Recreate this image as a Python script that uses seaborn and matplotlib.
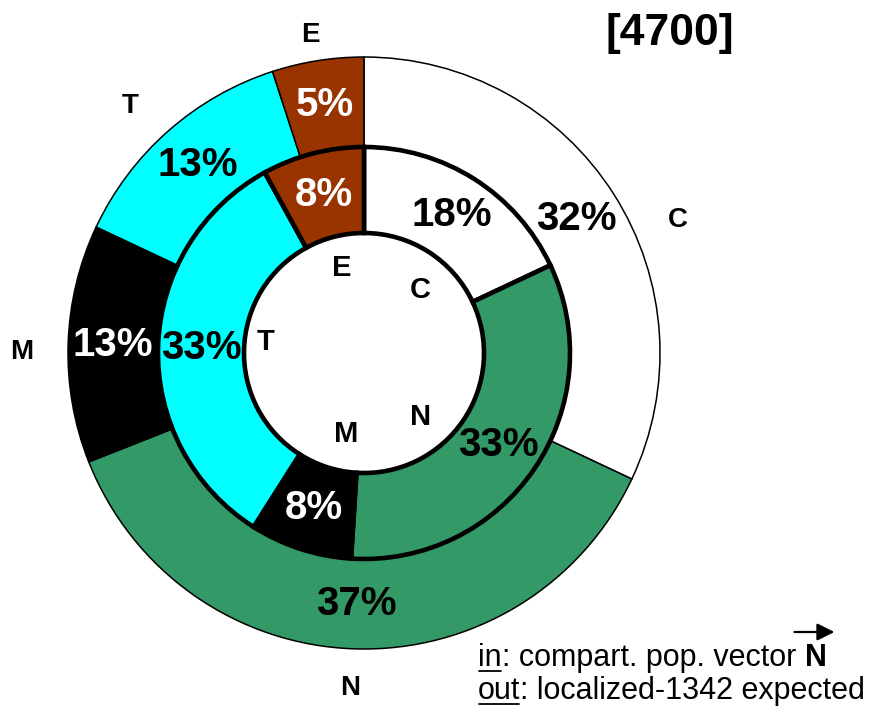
import matplotlib.pyplot as plt
import seaborn as sns

# data
categories = ["C", "N", "M", "T", "E"]
outer_pct = [32, 37, 13, 13, 5]     # out: localized-1342 expected
inner_pct = [18, 33, 8, 33, 8]      # in: compartment population vector
colors_hex = ["#FFFFFF", "#339966", "#000000", "#00FFFF", "#993300"]
pct_ink = ["black", "black", "white", "black", "white"]
title_text = "[4700]"

sns.set_theme(style="white")
plt.rcParams["font.family"] = ["Liberation Sans", "DejaVu Sans"]
plt.rcParams["text.color"] = "black"

fig = plt.figure(figsize=(8.72, 7.21), dpi=100)
ax = fig.add_axes([0, 0, 1, 1])
pal = sns.color_palette(colors_hex)

# geometry in pixels (axes is 1 unit = 1 px)
cx, cy = 364, 368
r_out, r_mid, r_in = 296, 206, 120

w_out, t_out, a_out = ax.pie(
    outer_pct, radius=r_out, center=(cx, cy), startangle=90, counterclock=False,
    colors=pal, labels=categories, labeldistance=342 / r_out,
    autopct=lambda p: f"{p:.0f}%", pctdistance=(r_out + r_mid) / 2 / r_out,
    wedgeprops=dict(width=r_out - r_mid, edgecolor="black", linewidth=1.1),
    textprops=dict(ha="center", va="center", fontweight="bold"),
)
w_in, t_in, a_in = ax.pie(
    inner_pct, radius=r_mid, center=(cx, cy), startangle=90, counterclock=False,
    colors=pal, labels=categories, labeldistance=88 / r_mid,
    autopct=lambda p: f"{p:.0f}%", pctdistance=(r_mid + r_in) / 2 / r_mid,
    wedgeprops=dict(width=r_mid - r_in, edgecolor="black", linewidth=3.3),
    textprops=dict(ha="center", va="center", fontweight="bold"),
)

# small hand nudges of the category letters (px), as in the original layout
nudge_out = {"C": (25, -50), "E": (0, -20), "T": (-8, -10), "M": (0, -10), "N": (-3, 7)}
nudge_in = {"C": (9, -11), "N": (-16, -15), "T": (-10, 8), "M": (9, 3)}
for txt in t_out:
    txt.set_fontsize(20)
    dx, dy = nudge_out.get(txt.get_text(), (0, 0))
    x, y = txt.get_position()
    txt.set_position((x + dx, y + dy))
for txt in t_in:
    txt.set_fontsize(21)
    dx, dy = nudge_in.get(txt.get_text(), (0, 0))
    x, y = txt.get_position()
    txt.set_position((x + dx, y + dy))
for auto, ink in zip(list(a_out) + list(a_in), pct_ink * 2):
    auto.set_fontsize(29)
    auto.set_color(ink)

ax.set_xlim(0, 872)
ax.set_ylim(0, 721)
ax.axis("off")

ax.text(670, 721 - 34, title_text, ha="center", va="center",
        fontsize=32, fontweight="bold")

# footnote: pieces placed one after another
fig.canvas.draw()
rend = fig.canvas.get_renderer()


def put(x, y, s, weight="normal", underline=False):
    t = ax.text(x, y, s, ha="left", va="baseline", fontsize=22, fontweight=weight)
    bb = t.get_window_extent(rend)
    if underline:
        ax.plot([bb.x0 + 1, bb.x1 - 1], [y - 5, y - 5], color="black", lw=1.3)
    return t, bb.x1


x0 = 478
_, x = put(x0, 721 - 666, "in", underline=True)
_, x = put(x, 721 - 666, ": compart. pop. vector ")
n_txt, x_end = put(x, 721 - 666, "N", weight="bold")
nb = n_txt.get_window_extent(rend)
ax.annotate("", xy=(nb.x1 + 8, 721 - 632), xytext=(nb.x0 - 10, 721 - 632),
            arrowprops=dict(arrowstyle="-|>", color="black", lw=1.6,
                            mutation_scale=26, shrinkA=0, shrinkB=0))

_, x = put(x0, 721 - 699, "out", underline=True)
put(x, 721 - 699, ": localized-1342 expected")

fig.savefig("out.png", dpi=100)
